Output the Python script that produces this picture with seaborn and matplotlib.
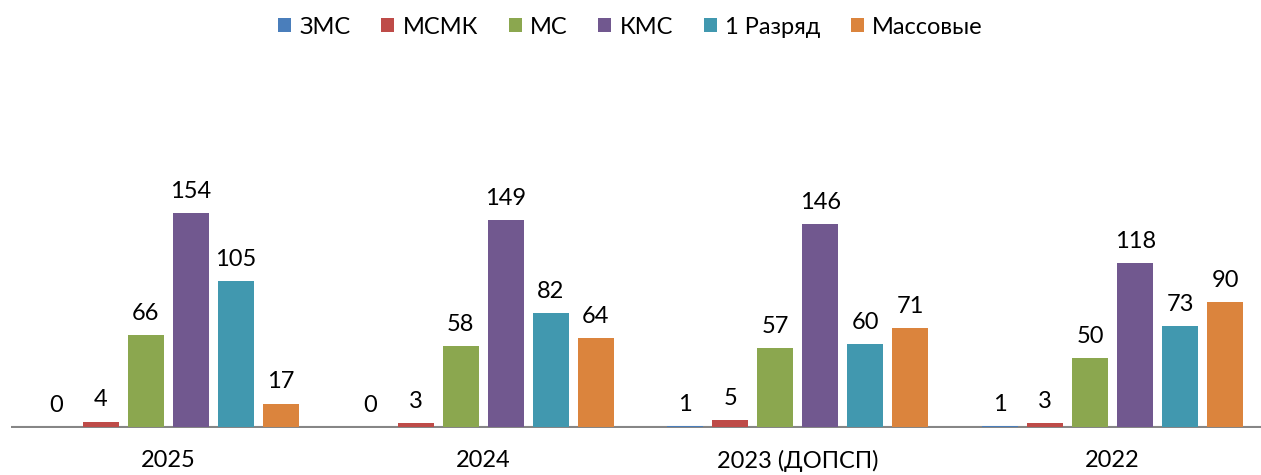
import pandas as pd
import matplotlib.pyplot as plt
import seaborn as sns
from matplotlib.patches import Patch

# Data
years = ['2025', '2024', '2023 (ДОПСП)', '2022']
categories = ['ЗМС', 'МСМК', 'МС', 'КМС', '1 Разряд', 'Массовые']
zms = [0, 0, 1, 1]
msmk = [4, 3, 5, 3]
ms = [66, 58, 57, 50]
kms = [154, 149, 146, 118]
razryad1 = [105, 82, 60, 73]
massovye = [17, 64, 71, 90]

colors = ['#4A7EBB', '#BE4B48', '#8BA74F', '#71588F', '#4198AF', '#DB843D']

series = [zms, msmk, ms, kms, razryad1, massovye]
rows = []
for cat, vals in zip(categories, series):
    for yr, v in zip(years, vals):
        rows.append({'year': yr, 'category': cat, 'value': v})
df = pd.DataFrame(rows)

sns.set_theme(style="white")
plt.rcParams['font.family'] = ['Lato', 'DejaVu Sans']
plt.rcParams['text.color'] = 'black'
plt.rcParams['xtick.color'] = 'black'

fig = plt.figure(figsize=(12.61, 4.75), dpi=100)
ax = fig.add_axes([11 / 1261, 47 / 475, 1259 / 1261, 279 / 475])

sns.barplot(data=df, x='year', y='value', hue='category', order=years,
            hue_order=categories, palette=colors, width=0.858, gap=0.2,
            saturation=1, legend=False, linewidth=0, zorder=3, ax=ax)

# Value labels
for container in ax.containers:
    ax.bar_label(container, fmt='%d', padding=8, fontsize=17, color='black')

ax.set_ylim(-0.6, 200)
ax.set_xlim(-0.5, 3.5)
ax.set_xlabel('')
ax.set_ylabel('')
ax.set_yticks([])
ax.tick_params(axis='x', length=0, pad=16, labelsize=17, labelcolor='black')
sns.despine(ax=ax, left=True, bottom=True)
ax.axhline(0, color='#868686', linewidth=1.5, zorder=1)

handles = [Patch(facecolor=c, edgecolor='none') for c in colors]
fig.legend(handles, categories, loc='upper center', bbox_to_anchor=(0.5, 1.01),
           ncol=6, frameon=False, fontsize=17, handlelength=0.55, handleheight=0.55,
           handletextpad=0.35, columnspacing=1.3)

plt.savefig('out.png', dpi=100)
